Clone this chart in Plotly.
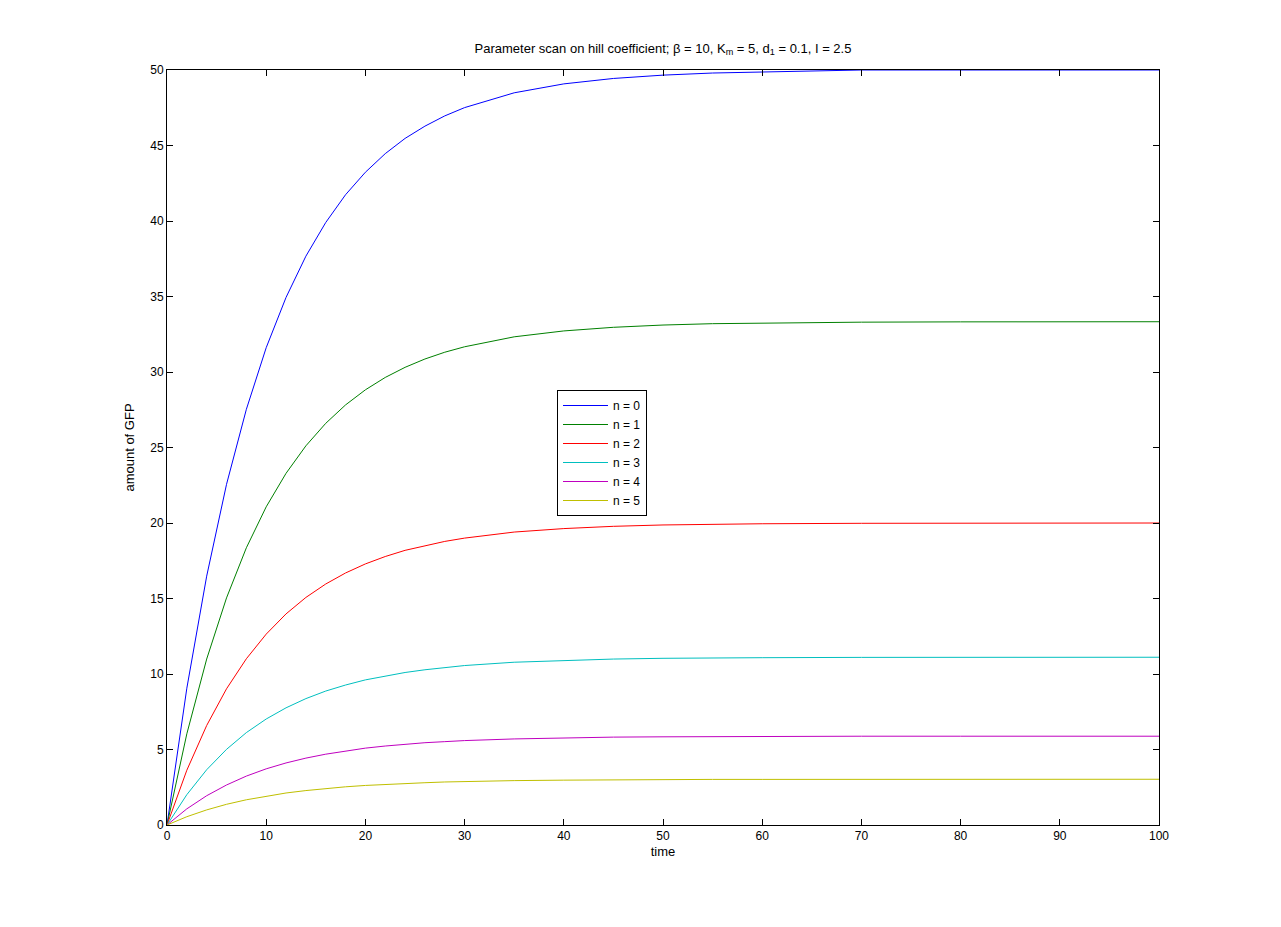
import plotly.graph_objects as go

time = [0, 2, 4, 6, 8, 10, 12, 14, 16, 18, 20, 22, 24, 26, 28, 30, 35, 40, 45, 50, 55, 60, 70, 80, 90, 100]

gfp_n0 = [0, 9.06, 16.48, 22.56, 27.53, 31.61, 34.94, 37.67, 39.90, 41.74, 43.23, 44.46, 45.47, 46.28, 46.96, 47.51, 48.49, 49.08, 49.44, 49.66, 49.80, 49.88, 50.0, 50.0, 50.0, 50.0]
gfp_n1 = [0, 6.04, 10.99, 15.04, 18.36, 21.07, 23.29, 25.11, 26.60, 27.82, 28.82, 29.64, 30.31, 30.86, 31.31, 31.67, 32.33, 32.72, 32.96, 33.11, 33.20, 33.25, 33.30, 33.32, 33.33, 33.33]
gfp_n2 = [0, 3.63, 6.59, 9.02, 11.01, 12.64, 13.98, 15.07, 15.96, 16.69, 17.29, 17.78, 18.19, 18.51, 18.78, 19.00, 19.40, 19.63, 19.78, 19.87, 19.92, 19.95, 19.98, 19.99, 20.0, 20.0]
gfp_n3 = [0, 2.01, 3.66, 5.01, 6.12, 7.02, 7.76, 8.37, 8.87, 9.27, 9.61, 9.88, 10.10, 10.28, 10.43, 10.56, 10.78, 10.91, 10.99, 11.04, 11.07, 11.08, 11.10, 11.11, 11.11, 11.11]
gfp_n4 = [0, 1.07, 1.94, 2.65, 3.24, 3.72, 4.11, 4.43, 4.69, 4.91, 5.09, 5.23, 5.35, 5.45, 5.52, 5.59, 5.70, 5.77, 5.82, 5.84, 5.86, 5.87, 5.88, 5.88, 5.88, 5.88]
gfp_n5 = [0, 0.55, 1.00, 1.37, 1.67, 1.92, 2.12, 2.28, 2.42, 2.53, 2.62, 2.69, 2.76, 2.80, 2.85, 2.88, 2.94, 2.97, 3.00, 3.01, 3.02, 3.02, 3.03, 3.03, 3.03, 3.03]

series_names = ["n = 0", "n = 1", "n = 2", "n = 3", "n = 4", "n = 5"]
series_values = [gfp_n0, gfp_n1, gfp_n2, gfp_n3, gfp_n4, gfp_n5]
colors = ["#0000FF", "#008000", "#FF0000", "#00BFBF", "#BF00BF", "#BFBF00"]

x_ticks = [0, 10, 20, 30, 40, 50, 60, 70, 80, 90, 100]
y_ticks = [0, 5, 10, 15, 20, 25, 30, 35, 40, 45, 50]

FONT = "Liberation Sans, Arial, Helvetica, sans-serif"

# page body has an 8px margin; compensate so plot area sits at x 167..1159, y 70..825
OFF = 8
W, H = 1265, 911
L, T = 167 - OFF, 70 - OFF
PW, PH = 992, 755
R, B = W - L - PW, H - T - PH

fig = go.Figure()
for name, vals, c in zip(series_names, series_values, colors):
    fig.add_trace(go.Scatter(x=time, y=vals, mode="lines", name=name,
                             line=dict(color=c, width=1)))

axis_common = dict(showline=True, linecolor="black", linewidth=1, mirror="ticks",
                   ticks="inside", ticklen=6, tickcolor="black", tickwidth=1,
                   showgrid=False, zeroline=False, layer="above traces",
                   tickfont=dict(family=FONT, size=12, color="black"))

fig.update_layout(
    width=W, height=H,
    margin=dict(l=L, r=R, t=T, b=B, autoexpand=False),
    paper_bgcolor="white", plot_bgcolor="white",
    font=dict(family=FONT, size=12, color="black"),
    title=dict(text="Parameter scan on hill coefficient; β = 10, K<sub>m</sub> = 5, d<sub>1</sub> = 0.1, I = 2.5",
               x=(L + PW / 2) / W, xanchor="center", y=1 - (48 - OFF) / H, yanchor="middle",
               font=dict(family=FONT, size=13, color="black")),
    xaxis=dict(range=[0, 100], tickvals=x_ticks, ticktext=[str(v) for v in x_ticks],
               title=dict(text="time", font=dict(family=FONT, size=13), standoff=4),
               **axis_common),
    yaxis=dict(range=[0, 50], tickvals=y_ticks, ticktext=[str(v) for v in y_ticks],
               title=dict(text="amount of GFP", font=dict(family=FONT, size=13), standoff=12),
               **axis_common),
    legend=dict(x=(557 - 167) / PW, y=(825 - 390) / PH, xanchor="left", yanchor="top",
                bordercolor="black", borderwidth=1, bgcolor="white",
                font=dict(family=FONT, size=12, color="black"),
                tracegroupgap=0, itemwidth=45),
    showlegend=True,
)

fig.write_html("out.html")
